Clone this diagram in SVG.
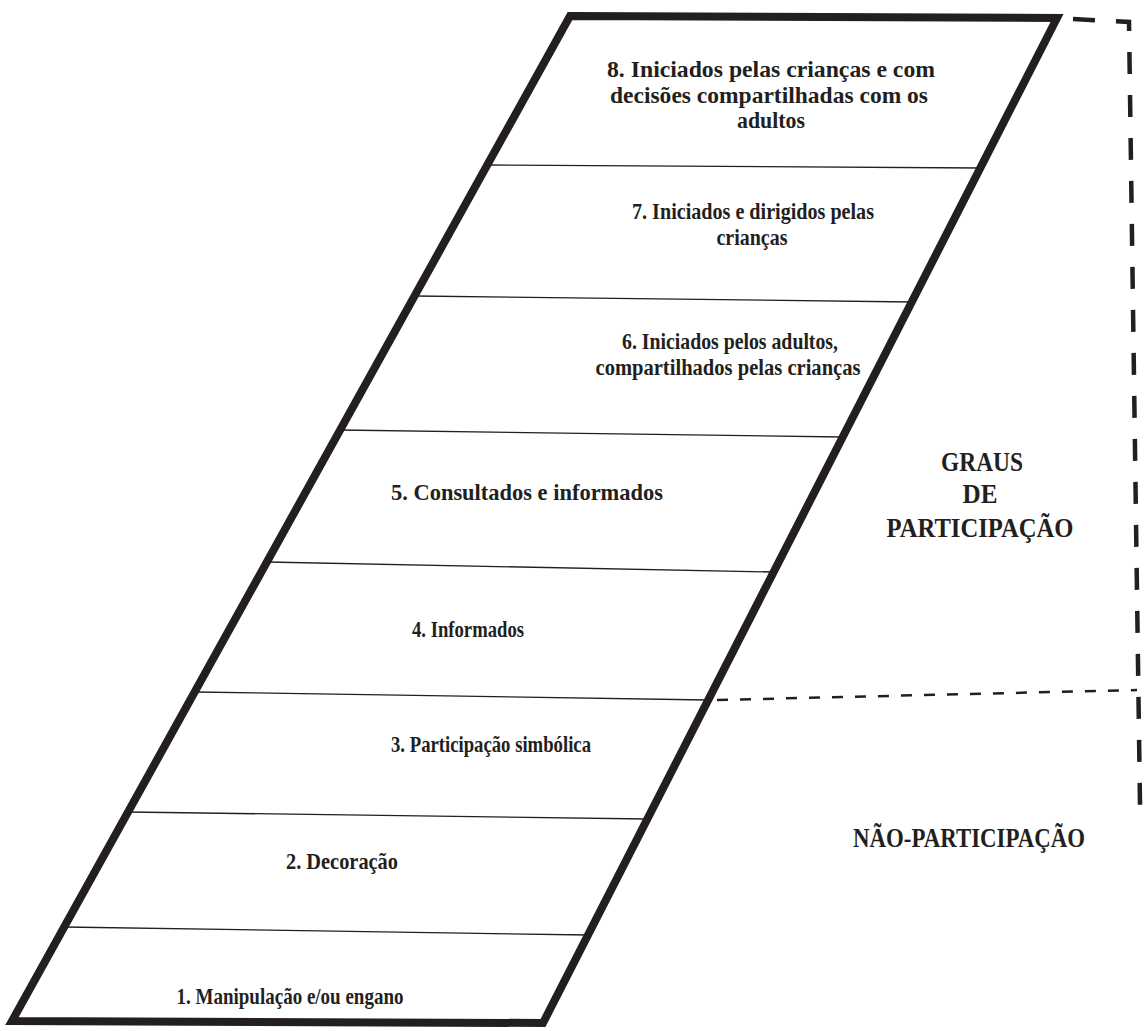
<svg xmlns="http://www.w3.org/2000/svg" width="1145" height="1031" viewBox="0 0 1145 1031">
<style>
.frame{fill:#fff;stroke:#231f20;stroke-width:8;stroke-linejoin:miter;stroke-miterlimit:10}
.div{stroke:#231f20;stroke-width:1.3;fill:none}
.t{font-family:"Liberation Serif","Times New Roman",serif;font-weight:bold;font-size:23px;fill:#231f20;text-anchor:middle}
.lbl{font-family:"Liberation Serif","Times New Roman",serif;font-weight:bold;font-size:27px;fill:#231f20;text-anchor:middle}
.dash1{fill:none;stroke:#231f20;stroke-width:4.5;stroke-dasharray:22 21}
.dash2{fill:none;stroke:#231f20;stroke-width:2.5;stroke-dasharray:11 12}
</style>
<rect width="1145" height="1031" fill="#fff"/>
<g id="ladder">
<polygon class="frame" points="570,16 1057,18 543,1023 12,1021"/>
</g>
<g id="connectors">
<line class="div" x1="487" y1="165" x2="980" y2="168"/>
<line class="div" x1="415" y1="296" x2="912" y2="302"/>
<line class="div" x1="340" y1="430" x2="843" y2="437"/>
<line class="div" x1="267" y1="562" x2="774" y2="572"/>
<line class="div" x1="195" y1="692" x2="708" y2="700"/>
<line class="div" x1="128" y1="812" x2="647" y2="819"/>
<line class="div" x1="64" y1="927" x2="588" y2="935"/>
<path class="dash1" d="M1073,19 L1129,22 L1140,805"/>
<path class="dash2" d="M717,700 L1137,690"/>
</g>
<g id="step8"><text class="t" x="771" y="77" textLength="328" lengthAdjust="spacingAndGlyphs">8. Iniciados pelas crianças e com</text><text class="t" x="769" y="103" textLength="318" lengthAdjust="spacingAndGlyphs">decisões compartilhadas com os</text><text class="t" x="771" y="128" textLength="68" lengthAdjust="spacingAndGlyphs">adultos</text></g>
<g id="step7"><text class="t" x="753" y="219" textLength="242" lengthAdjust="spacingAndGlyphs">7. Iniciados e dirigidos pelas</text><text class="t" x="752" y="245" textLength="71" lengthAdjust="spacingAndGlyphs">crianças</text></g>
<g id="step6"><text class="t" x="730" y="349" textLength="216" lengthAdjust="spacingAndGlyphs">6. Iniciados pelos adultos,</text><text class="t" x="728" y="375" textLength="265" lengthAdjust="spacingAndGlyphs">compartilhados pelas crianças</text></g>
<g id="step5"><text class="t" x="527" y="500" textLength="272" lengthAdjust="spacingAndGlyphs">5. Consultados e informados</text></g>
<g id="step4"><text class="t" x="468" y="637" textLength="112" lengthAdjust="spacingAndGlyphs">4. Informados</text></g>
<g id="step3"><text class="t" x="491" y="752" textLength="200" lengthAdjust="spacingAndGlyphs">3. Participação simbólica</text></g>
<g id="step2"><text class="t" x="342" y="869" textLength="112" lengthAdjust="spacingAndGlyphs">2. Decoração</text></g>
<g id="step1"><text class="t" x="290" y="1004" textLength="227" lengthAdjust="spacingAndGlyphs">1. Manipulação e/ou engano</text></g>
<g id="graus"><text class="lbl" x="982" y="471" textLength="82" lengthAdjust="spacingAndGlyphs">GRAUS</text><text class="lbl" x="980" y="503" textLength="35" lengthAdjust="spacingAndGlyphs">DE</text><text class="lbl" x="980" y="537" textLength="187" lengthAdjust="spacingAndGlyphs">PARTICIPAÇÃO</text></g>
<g id="nao"><text class="lbl" x="969" y="847" textLength="232" lengthAdjust="spacingAndGlyphs">NÃO-PARTICIPAÇÃO</text></g>
</svg>
